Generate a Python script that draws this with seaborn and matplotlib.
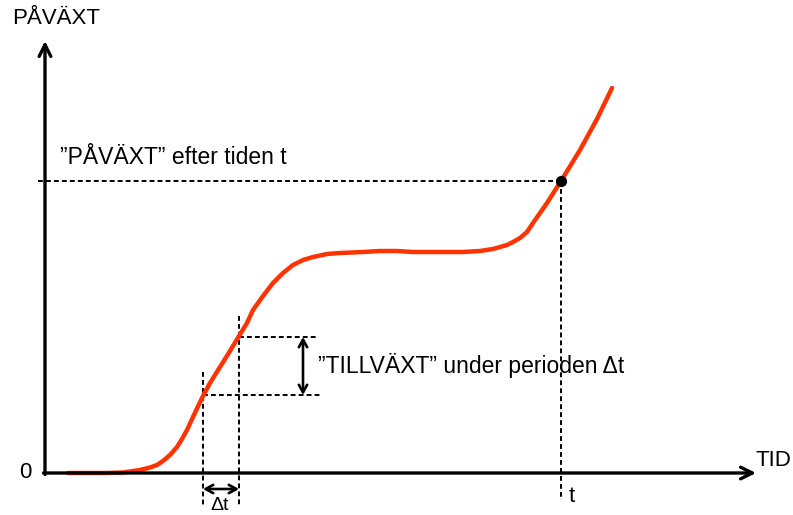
import matplotlib
matplotlib.use("Agg")
import matplotlib.pyplot as plt
import seaborn as sns
import pandas as pd

sns.set_theme(style="white")
plt.rcParams['font.family'] = ['Liberation Sans', 'DejaVu Sans']

# Curve data (time, growth)
tid = [23, 45, 62, 78, 95, 105, 112, 118, 125, 132, 137, 142, 148, 157, 165,
       175, 185, 194, 202, 208, 218, 228, 238, 248, 258, 268, 282, 295, 318,
       335, 352, 368, 385, 402, 418, 435, 448, 462, 468, 475, 482, 488, 495,
       502, 516, 535, 552, 567]
pavaxt = [0, 0, 0, 0.5, 3, 5.5, 8, 12, 18, 26, 34, 43, 56, 75, 90,
          106, 122, 137, 150, 163, 177, 190, 200, 208, 213, 216, 219, 220, 221,
          222, 222, 221, 221, 221, 221, 222, 224, 228, 231, 235, 241, 250, 260,
          270, 292, 323, 354, 385]

# Marked points
t_point = 516
t_value = 292
dt_start, dt_end = 158, 194
g_start, g_end = 78, 136

labels = {
    "y": "PÅVÄXT",
    "x": "TID",
    "zero": "0",
    "t": "t",
    "dt": "\u0394t",
    "pav": "\u201dPÅVÄXT\u201d efter tiden t",
    "till": "\u201dTILLVÄXT\u201d under perioden \u0394t",
}

df = pd.DataFrame({"tid": tid, "pavaxt": pavaxt})

fig = plt.figure(figsize=(7.93, 5.15), dpi=100)
ax = fig.add_axes([0, 0, 1, 1])
ax.set_xlim(-45, 748)
ax.set_ylim(-42, 473)
ax.axis("off")

sns.lineplot(data=df, x="tid", y="pavaxt", ax=ax, color="#FF3300", lw=3.2,
             sort=False, zorder=3)

# axes with arrows
axarr = dict(arrowstyle="->,head_length=0.7,head_width=0.35",
             lw=2.4, color="black", shrinkA=0, shrinkB=0)
ax.annotate("", xy=(0, 432), xytext=(0, -1.5), arrowprops=axarr)
ax.annotate("", xy=(711, 0), xytext=(-1.5, 0), arrowprops=axarr)

dash = dict(color="black", lw=1.4, ls=(0, (2.5, 1.6)), zorder=2)
# PÅVÄXT at t
ax.plot([-7, t_point], [t_value, t_value], **dash)
ax.plot([t_point, t_point], [t_value, -27], **dash)
ax.scatter([t_point], [t_value], s=50, color="black", zorder=5)

# delta t lines
ax.plot([dt_start, dt_start], [101, -32], **dash)
ax.plot([dt_end, dt_end], [157, -32], **dash)
ax.plot([dt_start, 275], [g_start, g_start], **dash)
ax.plot([dt_end, 273], [g_end, g_end], **dash)

arr = dict(arrowstyle="<->,head_length=0.45,head_width=0.25", lw=1.9,
           color="black", shrinkA=0, shrinkB=0)
ax.annotate("", xy=(258, g_end), xytext=(258, g_start), arrowprops=arr)
ax.annotate("", xy=(dt_end, -16), xytext=(dt_start, -16), arrowprops=arr)

fs = 16
tk = dict(fontsize=fs, color="black")
tl = dict(fontsize=16.5, color="black")
ax.text(-33, 455, labels["y"], ha="left", va="center", **tk)
ax.text(711, 12, labels["x"], ha="left", va="center", **tk)
ax.text(-14, 0, labels["zero"], ha="right", va="center", **tk)
ax.text(t_point + 8, -24, labels["t"], ha="left", va="center", **tk)
ax.text(dt_start + 7, -37, labels["dt"], ha="left", va="baseline",
        fontsize=14, color="black")
ax.text(15, 316, labels["pav"], ha="left", va="center", **tl)
ax.text(273, 108, labels["till"], ha="left", va="center", **tl)

fig.savefig("out.png", dpi=100, facecolor="white")
